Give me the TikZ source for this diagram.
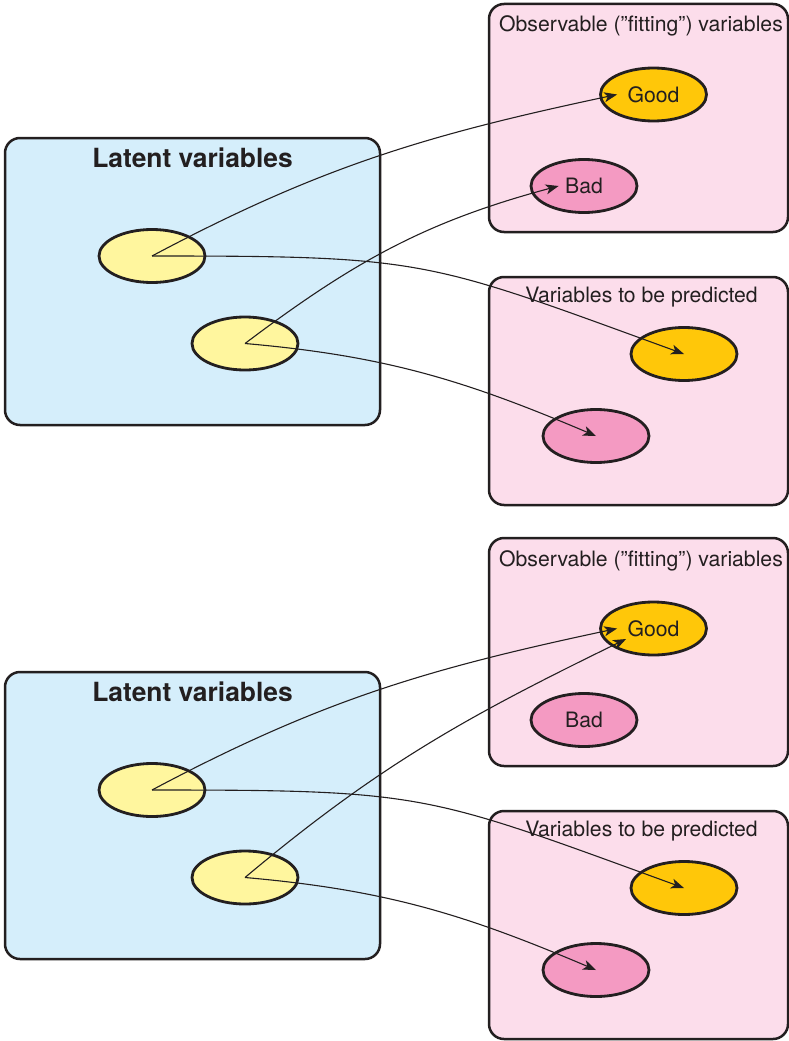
\documentclass[tikz,border=0pt]{standalone}
\usepackage{fontspec}
\setmainfont{TeX Gyre Heros}
\usepackage{tikz}
\usetikzlibrary{shapes,arrows.meta,positioning}

\definecolor{inkdark}{HTML}{231F20}
\definecolor{latentblue}{HTML}{D5EEFB}
\definecolor{boxpink}{HTML}{FCDDEB}
\definecolor{latyellow}{HTML}{FFF69E}
\definecolor{goodorange}{HTML}{FFC709}
\definecolor{badpink}{HTML}{F49AC2}

\tikzstyle{panel} = [draw=inkdark, line width=2.5pt, rounded corners=15pt, inner sep=0pt]
\tikzstyle{latent} = [panel, fill=latentblue, minimum width=375pt, minimum height=287pt]
\tikzstyle{outbox} = [panel, fill=boxpink, minimum width=299pt, minimum height=228pt]
\tikzstyle{var} = [draw=inkdark, ellipse, line width=2.8pt, minimum width=106pt,
    minimum height=53pt, inner sep=0pt, text=inkdark, font=\fontsize{21.2}{25}\selectfont]
\tikzstyle{lat} = [var, fill=latyellow]
\tikzstyle{good} = [var, fill=goodorange]
\tikzstyle{bad} = [var, fill=badpink]
\tikzstyle{title} = [text=inkdark, anchor=base, inner sep=0pt, font=\fontsize{21.2}{25}\selectfont]
\tikzstyle{link} = [draw=inkdark, line width=1.1pt, -{Stealth[length=13pt,width=10pt,inset=3.5pt]}]

\begin{document}
\begin{tikzpicture}[x=1pt, y=1pt, node distance=534pt]
  \useasboundingbox (0,0) rectangle (789,-1041);
  % upper panel
  \node [latent] (lt1) at (192.5,-281.5) {};
  \node [title, font=\bfseries\fontsize{26.4}{30}\selectfont] (lt1t) at (192.5,-167) {Latent variables};
  \node [outbox] (ob1) at (638.5,-118) {};
  \node [title] (ob1t) at (641,-32) {Observable (”fitting”) variables};
  \node [outbox] (pr1) at (638.5,-391) {};
  \node [title] (pr1t) at (641.5,-302) {Variables to be predicted};
  \node [lat] (y11) at (152,-256) {};
  \node [lat] (y12) at (245,-343.5) {};
  \node [good] (g1) at (653.5,-94.5) {Good};
  \node [bad] (b1) at (584,-186) {Bad};
  \node [good] (pg1) at (684,-354) {};
  \node [bad] (pb1) at (596,-436) {};
  \draw [link] (y11.center) to[out=28,in=192] ([xshift=18pt]g1.west);
  \draw [link] (y11.center) to[out=0,in=160,looseness=1.3] (pg1.center);
  \draw [link] (y12.center) to[out=37,in=195] ([xshift=29pt]b1.west);
  \draw [link] (y12.center) to[out=-5,in=157] (pb1.center);
  % lower panel
  \node [latent, below of=lt1] (lt2) {};
  \node [title, font=\bfseries\fontsize{26.4}{30}\selectfont, below of=lt1t] (lt2t) {Latent variables};
  \node [outbox, below of=ob1] (ob2) {};
  \node [title, below of=ob1t] (ob2t) {Observable (”fitting”) variables};
  \node [outbox, below of=pr1] (pr2) {};
  \node [title, below of=pr1t] (pr2t) {Variables to be predicted};
  \node [lat, below of=y11] (y21) {};
  \node [lat, below of=y12] (y22) {};
  \node [good, below of=g1] (g2) {Good};
  \node [bad, below of=b1] (b2) {Bad};
  \node [good, below of=pg1] (pg2) {};
  \node [bad, below of=pb1] (pb2) {};
  \draw [link] (y21.center) to[out=28,in=192] ([xshift=18pt]g2.west);
  \draw [link] (y21.center) to[out=0,in=160,looseness=1.3] (pg2.center);
  \draw [link] (y22.center) to[out=40,in=206] ([xshift=27pt,yshift=-10.5pt]g2.west);
  \draw [link] (y22.center) to[out=-5,in=157] (pb2.center);
\end{tikzpicture}
\end{document}
